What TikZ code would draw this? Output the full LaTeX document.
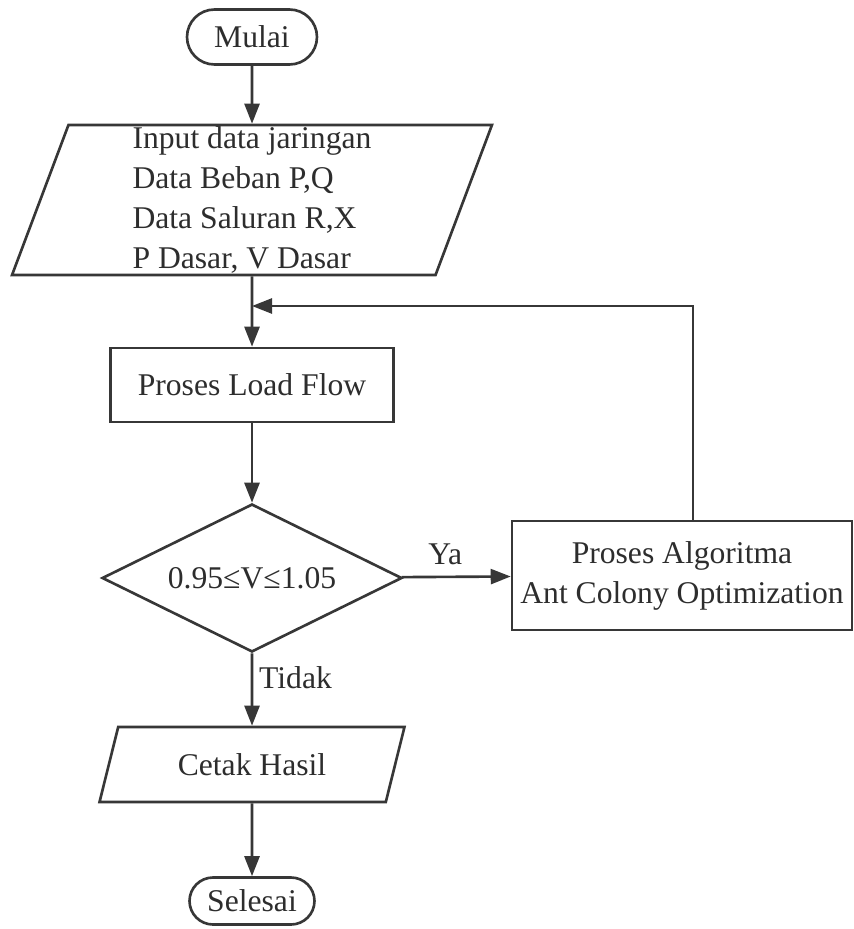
\documentclass[tikz,border=0pt]{standalone}
\usepackage{fontspec}
\setmainfont{Liberation Serif}
\usetikzlibrary{shapes.geometric,shapes.misc,arrows.meta}
\definecolor{fcline}{RGB}{55,55,55}
\definecolor{fctext}{RGB}{45,45,45}

\begin{document}
\begin{tikzpicture}[x=0.02cm, y=-0.02cm,
  every node/.style={font=\fontsize{18}{22.8}\selectfont, text=fctext},
  terminal/.style={draw=fcline, line width=1.5pt, rounded rectangle, minimum width=2.6cm, minimum height=1.1cm, inner sep=0pt},
  io/.style={draw=fcline, line width=1.5pt, trapezium, trapezium stretches body, inner sep=0pt},
  proc/.style={draw=fcline, line width=1.5pt, rectangle, inner sep=0pt},
  flow/.style={-{Triangle[length=0.4cm, width=0.3cm]}, line width=1.5pt, fcline}]
\useasboundingbox (0,0) rectangle (854,929);

% Start
\node[terminal] (mulai) at (252,37) {Mulai};

% Input data
\node[io, trapezium left angle=69, trapezium right angle=111, minimum width=9.6cm, minimum height=3cm, align=left] (input) at (252,200) {
Input data jaringan\\Data Beban P,Q\\Data Saluran R,X\\P Dasar, V Dasar
};

% Load flow
\node[proc, minimum width=5.66cm, minimum height=1.48cm] (loadflow) at (252,385) {Proses Load Flow};

% Voltage check
\node[diamond, aspect=2, draw=fcline, line width=1.5pt, minimum width=6cm, minimum height=2.96cm, inner sep=0pt] (cek) at (252,578) {0.95≤V≤1.05};

% ACO process
\node[proc, minimum width=6.8cm, minimum height=2.18cm, align=center] (aco) at (682,575.5) {
Proses Algoritma\\Ant Colony Optimization
};

% Output and end
\node[io, trapezium left angle=50, trapezium right angle=130, minimum width=6.1cm, minimum height=1.5cm] (cetak) at (252,764.5) {Cetak Hasil};
\node[terminal, minimum width=2.5cm, minimum height=0.94cm] (selesai) at (252,901) {Selesai};

% Arrows
\coordinate (balik) at (252,306);
\draw[flow] (mulai) -- (input);
\draw[flow] (input) -- (loadflow);
\draw[flow] (loadflow) -- (cek);
\draw[flow] (cek) -- node[above, pos=0.4, yshift=3pt] {Ya} (aco);
\draw[flow] (cek) -- node[right, pos=0.33] {Tidak} (cetak);
\draw[flow] (cetak) -- (selesai);
\draw[flow] ([xshift=0.22cm]aco.north) |- (balik);
\end{tikzpicture}
\end{document}
